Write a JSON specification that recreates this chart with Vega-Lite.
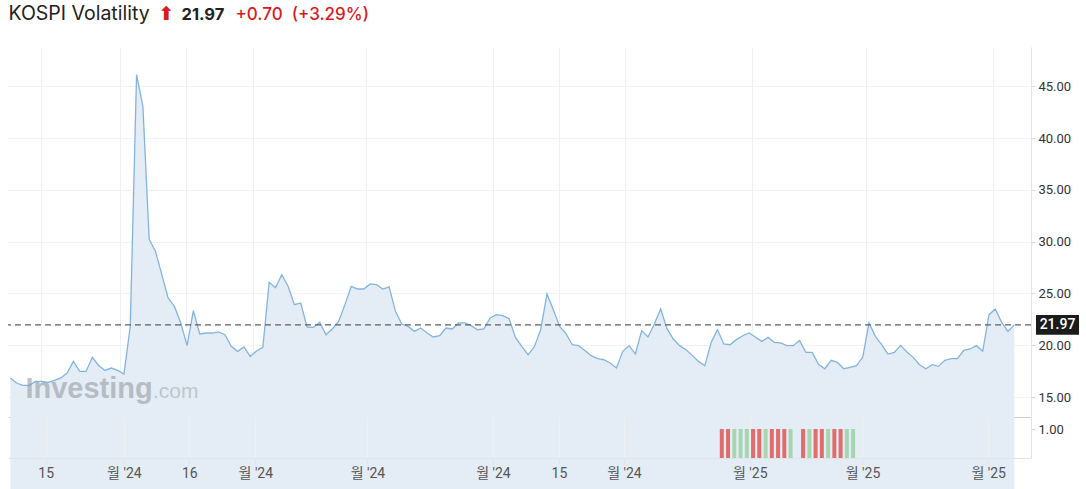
{
  "$schema": "https://vega.github.io/schema/vega-lite/v6.json",
  "padding": {"left": 7, "top": 3, "right": 0, "bottom": 0},
  "autosize": {"type": "pad"},
  "background": "white",
  "config": {"view": {"stroke": null}, "font": "Roboto"},
  "datasets": {
    "series": [
      {"i":0,"v":16.84},{"i":1,"v":16.35},{"i":2,"v":16.12},{"i":3,"v":16.12},{"i":4,"v":16.51},{"i":5,"v":16.51},{"i":6,"v":16.41},{"i":7,"v":16.6},{"i":8,"v":16.84},{"i":9,"v":17.32},
      {"i":10,"v":18.44},{"i":11,"v":17.47},{"i":12,"v":17.47},{"i":13,"v":18.83},{"i":14,"v":18.05},{"i":15,"v":17.57},{"i":16,"v":17.8},{"i":17,"v":17.57},{"i":18,"v":17.22},{"i":19,"v":21.82},
      {"i":20,"v":46.14},{"i":21,"v":43.08},{"i":22,"v":30.2},{"i":23,"v":29.07},{"i":24,"v":26.82},{"i":25,"v":24.56},{"i":26,"v":23.75},{"i":27,"v":22.15},{"i":28,"v":19.96},{"i":29,"v":23.34},
      {"i":30,"v":21.09},{"i":31,"v":21.18},{"i":32,"v":21.18},{"i":33,"v":21.28},{"i":34,"v":21.02},{"i":35,"v":19.89},{"i":36,"v":19.41},{"i":37,"v":19.83},{"i":38,"v":18.92},{"i":39,"v":19.45},
      {"i":40,"v":19.8},{"i":41,"v":26.07},{"i":42,"v":25.55},{"i":43,"v":26.82},{"i":44,"v":25.69},{"i":45,"v":23.92},{"i":46,"v":24.08},{"i":47,"v":21.76},{"i":48,"v":21.72},{"i":49,"v":22.21},
      {"i":50,"v":21.02},{"i":51,"v":21.57},{"i":52,"v":22.3},{"i":53,"v":23.92},{"i":54,"v":25.69},{"i":55,"v":25.43},{"i":56,"v":25.43},{"i":57,"v":25.92},{"i":58,"v":25.85},{"i":59,"v":25.43},
      {"i":60,"v":25.63},{"i":61,"v":23.27},{"i":62,"v":22.05},{"i":63,"v":21.82},{"i":64,"v":21.34},{"i":65,"v":21.66},{"i":66,"v":21.18},{"i":67,"v":20.8},{"i":68,"v":20.92},{"i":69,"v":21.66},
      {"i":70,"v":21.57},{"i":71,"v":22.15},{"i":72,"v":22.15},{"i":73,"v":21.89},{"i":74,"v":21.5},{"i":75,"v":21.57},{"i":76,"v":22.63},{"i":77,"v":22.95},{"i":78,"v":22.86},{"i":79,"v":22.57},
      {"i":80,"v":20.76},{"i":81,"v":19.9},{"i":82,"v":19.09},{"i":83,"v":19.85},{"i":84,"v":21.5},{"i":85,"v":24.95},{"i":86,"v":23.43},{"i":87,"v":21.82},{"i":88,"v":21.12},{"i":89,"v":20.05},
      {"i":90,"v":19.96},{"i":91,"v":19.5},{"i":92,"v":18.99},{"i":93,"v":18.7},{"i":94,"v":18.6},{"i":95,"v":18.28},{"i":96,"v":17.8},{"i":97,"v":19.41},{"i":98,"v":19.96},{"i":99,"v":19.15},
      {"i":100,"v":21.41},{"i":101,"v":20.8},{"i":102,"v":22.05},{"i":103,"v":23.5},{"i":104,"v":21.6},{"i":105,"v":20.6},{"i":106,"v":19.96},{"i":107,"v":19.57},{"i":108,"v":19.02},{"i":109,"v":18.44},
      {"i":110,"v":18.02},{"i":111,"v":20.28},{"i":112,"v":21.5},{"i":113,"v":20.12},{"i":114,"v":20.05},{"i":115,"v":20.54},{"i":116,"v":20.92},{"i":117,"v":21.18},{"i":118,"v":20.8},{"i":119,"v":20.37},
      {"i":120,"v":20.76},{"i":121,"v":20.28},{"i":122,"v":20.22},{"i":123,"v":19.96},{"i":124,"v":19.96},{"i":125,"v":20.45},{"i":126,"v":19.31},{"i":127,"v":19.31},{"i":128,"v":18.15},{"i":129,"v":17.73},
      {"i":130,"v":18.54},{"i":131,"v":18.34},{"i":132,"v":17.73},{"i":133,"v":17.86},{"i":134,"v":18.02},{"i":135,"v":18.83},{"i":136,"v":22.15},{"i":137,"v":20.86},{"i":138,"v":20.05},{"i":139,"v":19.15},
      {"i":140,"v":19.31},{"i":141,"v":19.99},{"i":142,"v":19.35},{"i":143,"v":18.83},{"i":144,"v":18.12},{"i":145,"v":17.73},{"i":146,"v":18.12},{"i":147,"v":17.96},{"i":148,"v":18.54},{"i":149,"v":18.7},
      {"i":150,"v":18.7},{"i":151,"v":19.5},{"i":152,"v":19.64},{"i":153,"v":19.96},{"i":154,"v":19.41},{"i":155,"v":22.95},{"i":156,"v":23.5},{"i":157,"v":22.21},{"i":158,"v":21.34},{"i":159,"v":21.97}
    ],
    "last": [{"v": 21.97, "label": "21.97"}],
    "bars": [
      {"i":113,"v":1,"dir":"down"},{"i":114,"v":1,"dir":"down"},{"i":115,"v":1,"dir":"up"},{"i":116,"v":1,"dir":"up"},{"i":117,"v":1,"dir":"up"},{"i":118,"v":1,"dir":"down"},{"i":119,"v":1,"dir":"down"},{"i":120,"v":1,"dir":"up"},{"i":121,"v":1,"dir":"down"},{"i":122,"v":1,"dir":"down"},{"i":123,"v":1,"dir":"down"},{"i":124,"v":1,"dir":"up"},
      {"i":126,"v":1,"dir":"down"},{"i":127,"v":1,"dir":"up"},{"i":128,"v":1,"dir":"down"},{"i":129,"v":1,"dir":"down"},{"i":130,"v":1,"dir":"up"},{"i":131,"v":1,"dir":"down"},{"i":132,"v":1,"dir":"down"},{"i":133,"v":1,"dir":"up"},{"i":134,"v":1,"dir":"up"}
    ]
  },
  "vconcat": [
    {
      "width": 1023,
      "height": 370,
      "layer": [
        {
          "data": {"name": "series"},
          "mark": {"type": "area", "fill": "#e4edf6", "opacity": 1, "line": {"color": "#84b4de", "strokeWidth": 1.3}},
          "encoding": {
            "x": {
              "field": "i", "type": "quantitative",
              "scale": {"domain": [-0.36, 161.65], "nice": false, "zero": false},
              "axis": {
                "values": [4.86, 17.37, 27.83, 38.39, 56.33, 76.4, 86.95, 97.35, 117.47, 135.5, 155.6],
                "grid": true, "gridColor": "#eef1f4", "labels": false, "ticks": false,
                "domain": true, "domainColor": "#c9ced6",
                "title": "KOSPI Volatility", "titleX": 0, "titleY": -397.5, "titleAlign": "left", "titleBaseline": "alphabetic",
                "titleFont": "Inter", "titleFontSize": 19.5, "titleFontWeight": "normal", "titleColor": "#222222"
              }
            },
            "y": {
              "field": "v", "type": "quantitative",
              "scale": {"domain": [13.07, 48.8], "nice": false, "zero": false},
              "axis": {
                "orient": "right", "values": [15, 20, 25, 30, 35, 40, 45], "format": ".2f",
                "grid": true, "gridColor": "#f1f2f3",
                "labelFont": "Roboto", "labelFontSize": 13, "labelColor": "#333333", "labelPadding": 3,
                "tickSize": 4, "tickColor": "#d5dae0", "domain": true, "domainColor": "#dfe4ea",
                "title": "21.97", "titleAngle": 0, "titleX": -850, "titleY": -27.5, "titleAlign": "left", "titleBaseline": "alphabetic",
                "titleFont": "Inter", "titleFontSize": 16.5, "titleFontWeight": "bold", "titleColor": "#222222"
              }
            }
          }
        },
        {
          "data": {"values": [{"t": "Investing"}]},
          "mark": {"type": "text", "align": "left", "baseline": "alphabetic", "font": "Liberation Sans", "fontSize": 29, "fontWeight": "bold", "fill": "#8f959b", "opacity": 0.55},
          "encoding": {"x": {"datum": 2.4}, "y": {"datum": 14.93}, "text": {"field": "t"}}
        },
        {
          "data": {"values": [{"t": ".com"}]},
          "mark": {"type": "text", "align": "left", "baseline": "alphabetic", "font": "Liberation Sans", "fontSize": 21, "fontWeight": "normal", "fill": "#8f959b", "opacity": 0.45},
          "encoding": {"x": {"datum": 22.6}, "y": {"datum": 14.93}, "text": {"field": "t"}}
        },
        {
          "data": {"name": "last"},
          "mark": {"type": "rule", "strokeDash": [6, 4], "color": "#5f5f5f", "strokeWidth": 1.4},
          "encoding": {"y": {"field": "v", "type": "quantitative"}}
        },
        {
          "data": {"name": "last"},
          "mark": {"type": "point", "shape": "M-1,-0.46H1V0.46H-1Z", "size": 1849, "filled": true, "fill": "#1b1b1b", "opacity": 1, "strokeWidth": 0, "xOffset": 26.5},
          "encoding": {"x": {"datum": 161.65}, "y": {"field": "v", "type": "quantitative"}}
        },
        {
          "data": {"name": "last"},
          "mark": {"type": "text", "align": "center", "baseline": "middle", "font": "Roboto", "fontSize": 14, "fontWeight": 500, "fill": "#ffffff", "xOffset": 26.5},
          "encoding": {"x": {"datum": 161.65}, "y": {"field": "v", "type": "quantitative"}, "text": {"field": "label"}}
        }
      ]
    },
    {
      "width": 1023,
      "height": 41,
      "data": {"name": "bars"},
      "mark": {"type": "bar", "width": 4},
      "encoding": {
        "x": {
          "field": "i", "type": "quantitative",
          "scale": {"domain": [-0.36, 161.65], "nice": false, "zero": false},
          "axis": {
            "values": [4.86, 17.37, 27.83, 38.39, 56.33, 76.4, 86.95, 97.35, 117.47, 135.5, 155.6],
            "labelExpr": "datum.value < 10 ? '15' : datum.value < 20 ? \"월 '24\" : datum.value < 30 ? '16' : datum.value < 80 ? \"월 '24\" : datum.value < 90 ? '15' : datum.value < 100 ? \"월 '24\" : \"월 '25\"",
            "grid": true, "gridColor": "#eef1f4", "tickSize": 6, "tickColor": "#dfe3ea", "domainColor": "#dfe3ea",
            "labelFont": "Roboto, Noto Sans CJK KR", "labelFontSize": 14, "labelColor": "#555555", "labelPadding": 2,
            "title": "⬆", "titleX": 150, "titleY": -438.5, "titleAlign": "left", "titleBaseline": "alphabetic",
            "titleFont": "DejaVu Sans", "titleFontSize": 19, "titleFontWeight": "bold", "titleColor": "#d91a1a"
          }
        },
        "y": {
          "field": "v", "type": "quantitative",
          "scale": {"domain": [0, 1.414], "nice": false},
          "axis": {
            "orient": "right", "values": [1], "format": ".2f", "grid": false,
            "labelFont": "Roboto", "labelFontSize": 13, "labelColor": "#333333", "labelPadding": 3,
            "tickSize": 4, "tickColor": "#d5dae0", "domain": true, "domainColor": "#dfe4ea",
            "title": "+0.70\u00a0 (+3.29%)", "titleAngle": 0, "titleX": -796, "titleY": -397.5, "titleAlign": "left", "titleBaseline": "alphabetic",
            "titleFont": "Inter", "titleFontSize": 17, "titleFontWeight": 500, "titleColor": "#d91a1a"
          }
        },
        "color": {"field": "dir", "type": "nominal", "scale": {"domain": ["down", "up"], "range": ["#e06c6c", "#a5d6ae"]}, "legend": null}
      }
    }
  ],
  "spacing": 0,
  "bounds": "flush"
}
